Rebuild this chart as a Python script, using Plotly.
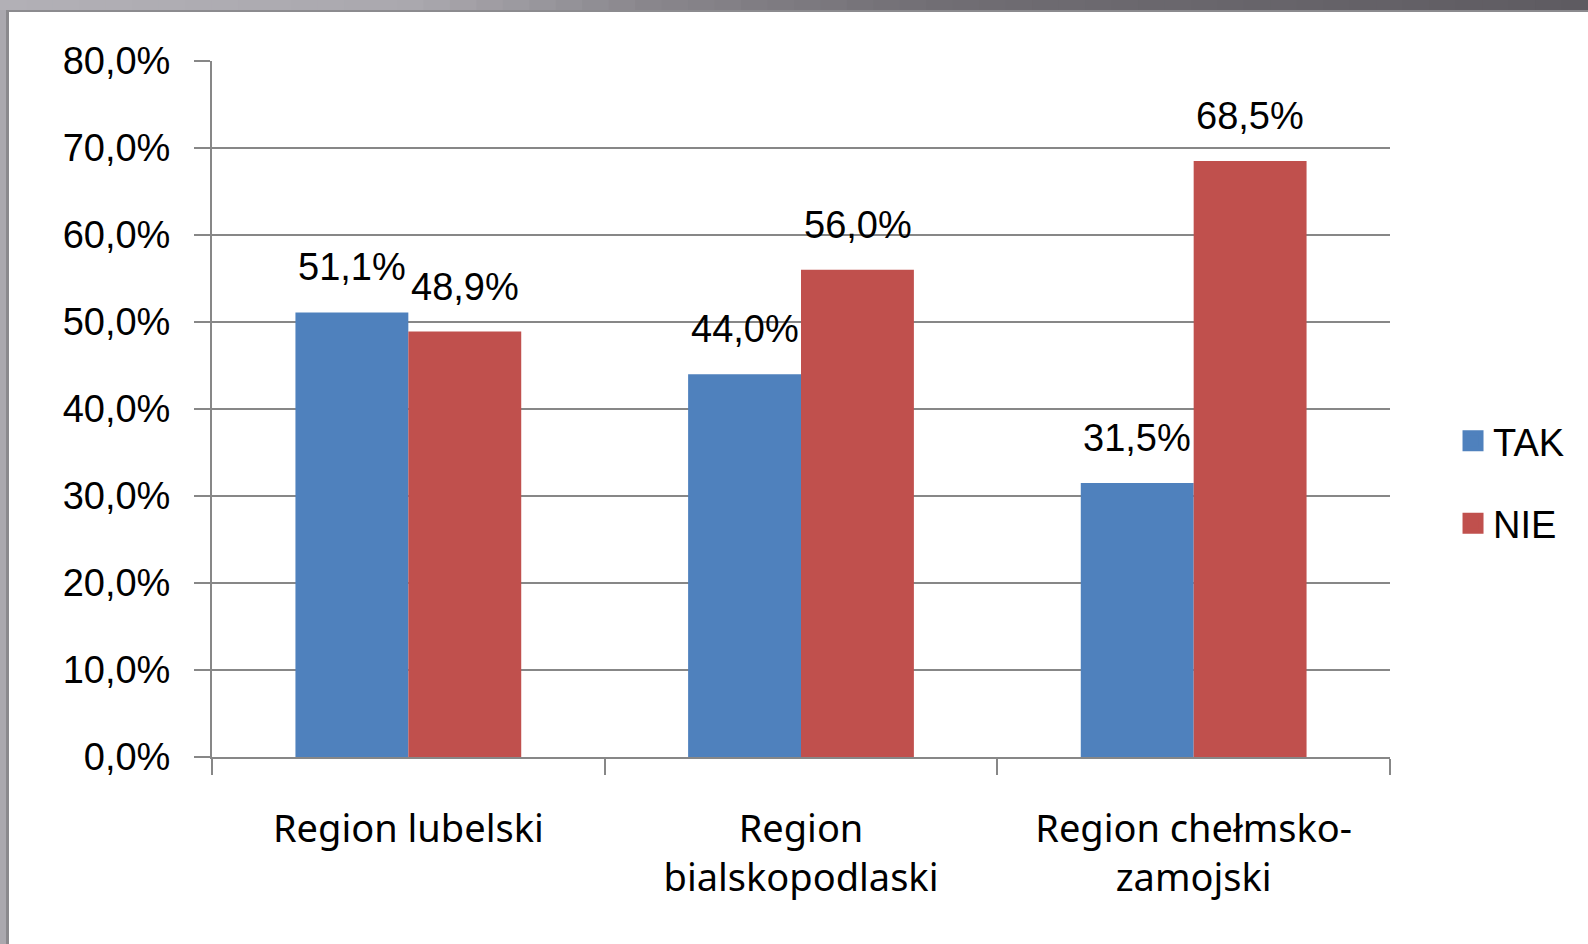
import plotly.graph_objects as go

categories = ["Region lubelski", "Region<br>bialskopodlaski", "Region chełmsko-<br>zamojski"]
series_names = ["TAK", "NIE"]
tak_values = [51.1, 44.0, 31.5]
nie_values = [48.9, 56.0, 68.5]
y_ticks = [0, 10, 20, 30, 40, 50, 60, 70, 80]

colors = {"TAK": "#4F81BD", "NIE": "#C0504D"}
W, H = 1588, 944
ML, MR, MT, MB = 212, 198, 61, 187
GRID = "#878787"
NUM_FONT = "Liberation Sans"


def fmt(v):
    return f"{v:.1f}".replace(".", ",") + "%"


fig = go.Figure()
for name, vals in zip(series_names, [tak_values, nie_values]):
    fig.add_trace(go.Bar(
        name=name, x=categories, y=vals,
        marker=dict(color=colors[name], line=dict(width=0)),
        showlegend=False,
    ))
# legend entries with larger square symbols
for name in series_names:
    fig.add_trace(go.Scatter(
        name=name, x=[None], y=[None], mode="markers",
        marker=dict(symbol="square", size=16, color=colors[name],
                    line=dict(color=colors[name], width=5)),
        legendgroup=name, showlegend=True,
    ))

# data labels
annotations = []
for i, (name, vals) in enumerate(zip(series_names, [tak_values, nie_values])):
    for c, v in zip(categories, vals):
        annotations.append(dict(
            x=c, y=v, xref="x", yref="y", text=fmt(v), showarrow=False,
            xshift=(-1 if i == 0 else 1) * 56.5, yshift=22, yanchor="bottom",
            font=dict(family=NUM_FONT, size=38, color="#000000"),
        ))

# frame bands (top gradient, left)
pw = W - ML - MR
ph = H - MT - MB


def px2x(px):
    return (px - ML) / pw


def py2y(py):
    return (H - MB - py) / ph


stops = [(0, (178, 176, 182)), (420, (170, 168, 174)), (640, (138, 135, 141)),
         (950, (112, 109, 115)), (1588, (94, 91, 97))]


def col_at(x):
    for (x0, c0), (x1, c1) in zip(stops[:-1], stops[1:]):
        if x0 <= x <= x1:
            t = (x - x0) / (x1 - x0)
            return "rgb(%d,%d,%d)" % tuple(round(a + (b - a) * t) for a, b in zip(c0, c1))
    return "rgb(94,91,97)"


shapes = []
nseg = 60
for k in range(nseg):
    x0 = W * k / nseg
    x1 = W * (k + 1) / nseg + 1
    shapes.append(dict(type="rect", xref="paper", yref="paper",
                       x0=px2x(x0), x1=px2x(x1), y0=py2y(0), y1=py2y(10),
                       fillcolor=col_at((x0 + x1) / 2), line=dict(width=0), layer="above"))
shapes.append(dict(type="rect", xref="paper", yref="paper",
                   x0=px2x(6), x1=px2x(W), y0=py2y(10), y1=py2y(12),
                   fillcolor="#8c8b8f", line=dict(width=0), layer="above"))
shapes.append(dict(type="rect", xref="paper", yref="paper",
                   x0=px2x(0), x1=px2x(6), y0=py2y(10), y1=py2y(H),
                   fillcolor="#aaa8ae", line=dict(width=0), layer="above"))
shapes.append(dict(type="rect", xref="paper", yref="paper",
                   x0=px2x(6), x1=px2x(9), y0=py2y(10), y1=py2y(H),
                   fillcolor="#8a898d", line=dict(width=0), layer="above"))

fig.update_layout(
    width=W, height=H,
    margin=dict(l=ML, r=MR, t=MT, b=MB, pad=0),
    paper_bgcolor="#ffffff", plot_bgcolor="#ffffff",
    barmode="group", bargap=0.425, bargroupgap=0,
    separators=", ",
    annotations=annotations,
    shapes=shapes,
    legend=dict(
        x=1.0535, xanchor="left", xref="paper", y=0.395, yanchor="middle",
        font=dict(family=NUM_FONT, size=38, color="#000000"),
        tracegroupgap=30, itemclick=False, bgcolor="rgba(0,0,0,0)",
    ),
    xaxis=dict(
        type="category", showline=True, linecolor=GRID, linewidth=2,
        ticks="outside", tickson="boundaries", ticklen=16, tickwidth=2, tickcolor=GRID,
        showgrid=False, tickfont=dict(family="Noto Sans", size=38, color="#000000"),
        ticklabelstandoff=37,
    ),
    yaxis=dict(
        range=[0, 80], tickvals=y_ticks, ticktext=[fmt(v) for v in y_ticks],
        showline=True, linecolor=GRID, linewidth=2,
        ticks="outside", ticklen=16, tickwidth=2, tickcolor=GRID,
        showgrid=True, gridcolor=GRID, gridwidth=2, zeroline=False,
        tickfont=dict(family=NUM_FONT, size=38, color="#000000"),
        ticklabelstandoff=16,
    ),
)

fig.write_html("out.html", config={"displayModeBar": False},
               post_script="document.body.style.margin='0';document.body.style.overflow='hidden';")
